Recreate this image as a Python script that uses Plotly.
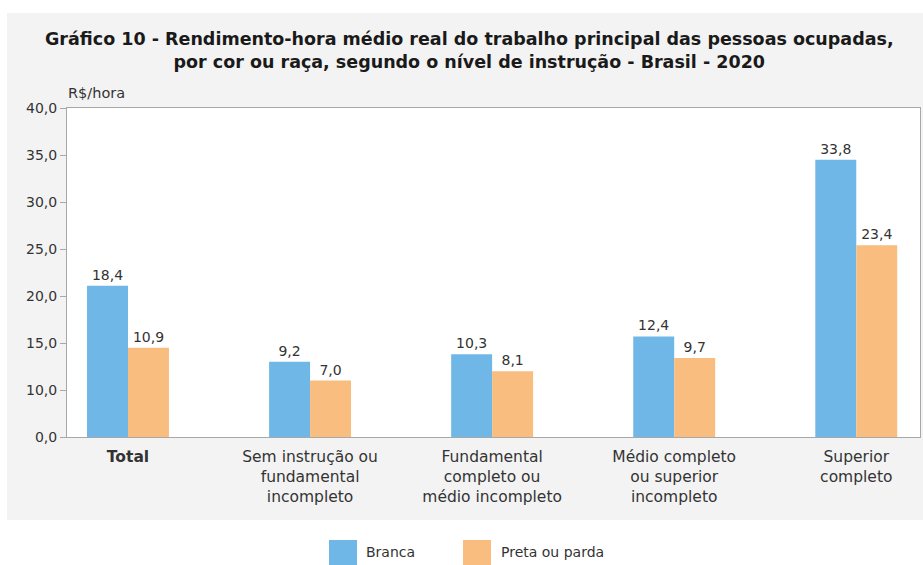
import plotly.graph_objects as go

# ---- data ----
categories = [
    "<b>Total</b>",
    "Sem instrução ou<br>fundamental<br>incompleto",
    "Fundamental<br>completo ou<br>médio incompleto",
    "Médio completo<br>ou superior<br>incompleto",
    "Superior<br>completo",
]
# bar heights as drawn in the picture (on the chart's own, broken axis)
branca_height = [21.1, 13.0, 13.8, 15.7, 34.5]
preta_height = [14.5, 11.0, 12.0, 13.4, 25.4]
# value labels printed above the bars
branca_label = [18.4, 9.2, 10.3, 12.4, 33.8]
preta_label = [10.9, 7.0, 8.1, 9.7, 23.4]

y_tickvals = [5, 10, 15, 20, 25, 30, 35, 40]
y_ticktext = ["0,0", "10,0", "15,0", "20,0", "25,0", "30,0", "35,0", "40,0"]

series_names = ["Branca", "Preta ou parda"]
colors = ["#6fb7e6", "#f9bd80"]

TITLE = ("<b>Gráfico 10 - Rendimento-hora médio real do trabalho principal das pessoas ocupadas,"
         "<br>por cor ou raça, segundo o nível de instrução - Brasil - 2020</b>")

def fmt(v):
    return f"{v:.1f}".replace(".", ",")

W, H = 923, 565
L, R, T, B = 67, 3, 108, 128
PW, PH = W - L - R, H - T - B

def px(x):
    return (x - L) / PW

def py(y):
    return (H - B - y) / PH

TXT = "#333333"
FONT = "DejaVu Sans"

fig = go.Figure()
for name, h, lab, c in [(series_names[0], branca_height, branca_label, colors[0]),
                        (series_names[1], preta_height, preta_label, colors[1])]:
    fig.add_trace(go.Bar(
        x=categories, y=h, name=name, marker=dict(color=c, line=dict(width=0)),
        text=[fmt(v) for v in lab], textposition="outside", cliponaxis=True,
        textfont=dict(family=FONT, size=14, color=TXT),
    ))

shapes = [
    # white strips around the grey panel
    dict(type="rect", xref="paper", yref="paper", x0=px(0), x1=px(W), y0=py(0), y1=py(13),
         fillcolor="white", line=dict(width=0), layer="below"),
    dict(type="rect", xref="paper", yref="paper", x0=px(0), x1=px(7), y0=py(0), y1=py(H),
         fillcolor="white", line=dict(width=0), layer="below"),
    dict(type="rect", xref="paper", yref="paper", x0=px(0), x1=px(W), y0=py(520), y1=py(H),
         fillcolor="white", line=dict(width=0), layer="below"),
    # legend swatches
    dict(type="rect", xref="paper", yref="paper", x0=px(329), x1=px(357), y0=py(540), y1=py(570),
         fillcolor=colors[0], line=dict(width=0)),
    dict(type="rect", xref="paper", yref="paper", x0=px(463), x1=px(491), y0=py(540), y1=py(570),
         fillcolor=colors[1], line=dict(width=0)),
]

annotations = [
    dict(text=TITLE, xref="paper", yref="paper", x=px(469), y=py(51), xanchor="center",
         yanchor="middle", showarrow=False, align="center",
         font=dict(family="DejaVu Sans", size=17.5, color="#1a1a1a")),
    dict(text="R$/hora", xref="paper", yref="paper", x=px(66), y=py(93), xanchor="left",
         yanchor="middle", showarrow=False, font=dict(family=FONT, size=14.5, color=TXT)),
    dict(text=series_names[0], xref="paper", yref="paper", x=px(364), y=py(552), xanchor="left",
         yanchor="middle", showarrow=False, font=dict(family=FONT, size=14, color=TXT)),
    dict(text=series_names[1], xref="paper", yref="paper", x=px(499), y=py(552), xanchor="left",
         yanchor="middle", showarrow=False, font=dict(family=FONT, size=14, color=TXT)),
]

fig.update_layout(
    width=W, height=H,
    margin=dict(l=L, r=R, t=T, b=B, pad=0),
    paper_bgcolor="#f3f3f3", plot_bgcolor="white",
    barmode="group", bargap=0.55, bargroupgap=0,
    showlegend=False,
    shapes=shapes, annotations=annotations,
    font=dict(family=FONT, color=TXT),
    xaxis=dict(range=[-0.335, 4.35], showline=True, mirror=True, linecolor="#a8a8a8",
               linewidth=1, showgrid=False, ticks="", ticklabelstandoff=5,
               tickfont=dict(family=FONT, size=15.5, color=TXT), fixedrange=True),
    yaxis=dict(range=[5, 40], tickvals=y_tickvals, ticktext=y_ticktext, showline=True,
               mirror=True, linecolor="#a8a8a8", linewidth=1, showgrid=False, zeroline=False,
               ticks="outside", ticklen=6, tickcolor="#a8a8a8",
               tickfont=dict(family=FONT, size=14, color=TXT), fixedrange=True),
)

fig.write_html("out.html", post_script="document.body.style.margin='0px';",
               config={"displayModeBar": False})
